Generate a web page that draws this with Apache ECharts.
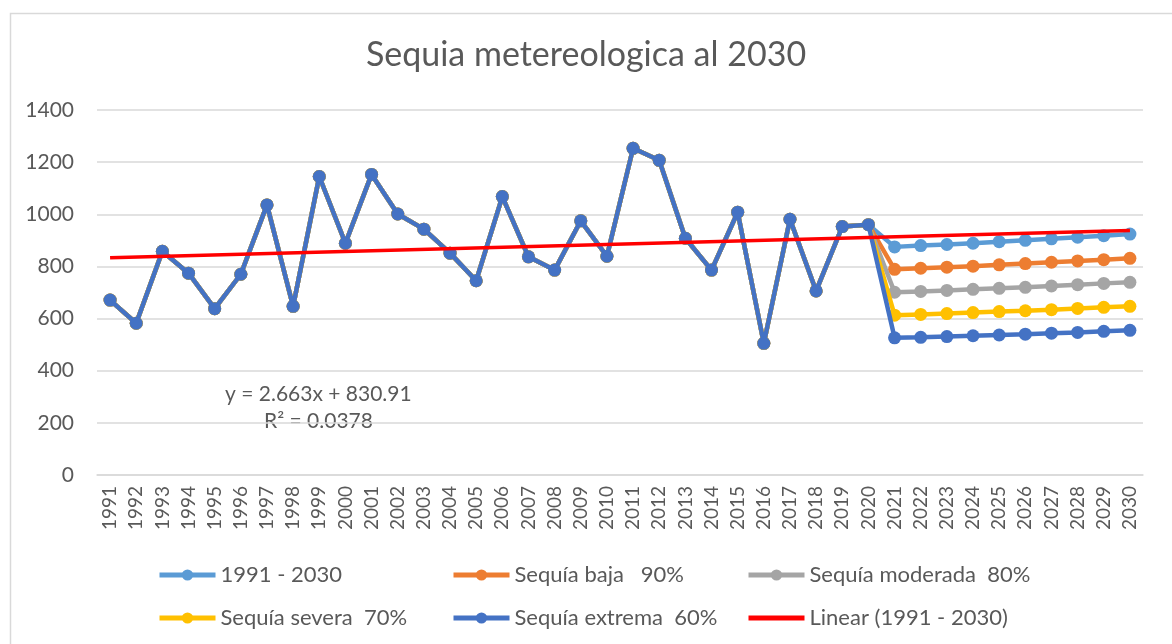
<!DOCTYPE html>
<html>
<head>
<meta charset="utf-8">
<script src="https://cdn.jsdelivr.net/npm/echarts@6/dist/echarts.min.js"></script>
<style>
html,body{margin:0;padding:0;background:#fff;}
#chart{width:1172px;height:644px;}
</style>
</head>
<body>
<div id="chart"></div>
<script>
const years = ['1991','1992','1993','1994','1995','1996','1997','1998','1999','2000',
  '2001','2002','2003','2004','2005','2006','2007','2008','2009','2010',
  '2011','2012','2013','2014','2015','2016','2017','2018','2019','2020',
  '2021','2022','2023','2024','2025','2026','2027','2028','2029','2030'];

const historical = [671, 582, 858, 774, 638, 770, 1036, 647, 1145, 889,
  1153, 1001, 943, 851, 745, 1068, 837, 786, 975, 839,
  1253, 1207, 908, 786, 1008, 505, 981, 706, 953, 960];

const proj100 = [875, 880, 884, 889, 895, 900, 906, 912, 918, 924];
const proj90  = [789, 793, 797, 801, 806, 811, 816, 821, 826, 831];
const proj80  = [701, 704, 708, 712, 716, 720, 725, 730, 735, 739];
const proj70  = [613, 616, 619, 623, 627, 630, 634, 639, 643, 647];
const proj60  = [526, 528, 531, 534, 537, 540, 544, 547, 551, 555];

const trendEnds = [833.6, 937.4];

const seriesNames = ['1991 - 2030', 'Sequía baja   90%', 'Sequía moderada  80%',
  'Sequía severa  70%', 'Sequía extrema  60%', 'Linear (1991 - 2030)'];
const seriesColors = ['#5B9BD5', '#ED7D31', '#A5A5A5', '#FFC000', '#4472C4', '#FF0000'];
const projections = [proj100, proj90, proj80, proj70, proj60];

const yTicks = {min: 0, max: 1400, interval: 200};

const chart = echarts.init(document.getElementById('chart'));
const FONT = 'Lato';
const TXT = '#595959';

const lineSeries = projections.map((p, i) => ({
  name: seriesNames[i],
  type: 'line',
  data: historical.concat(p),
  symbol: 'circle',
  symbolSize: 13,
  showSymbol: true,
  lineStyle: {width: 4.5, color: seriesColors[i]},
  itemStyle: {color: seriesColors[i]},
  z: 2 + i,
  animation: false
}));

const trendData = years.map((y, i) => i === 0 ? trendEnds[0] : (i === years.length - 1 ? trendEnds[1] : null));
lineSeries.push({
  name: seriesNames[5],
  type: 'line',
  data: trendData,
  connectNulls: true,
  symbol: 'none',
  lineStyle: {width: 3.5, color: seriesColors[5]},
  itemStyle: {color: seriesColors[5]},
  z: 10,
  animation: false
});

function legendCol(left, names) {
  return {
    orient: 'vertical',
    left: left,
    top: 559,
    itemWidth: 56,
    itemHeight: 14,
    itemGap: 21,
    data: names,
    lineStyle: {width: 5},
    textStyle: {fontFamily: FONT, fontSize: 22, color: TXT},
    selectedMode: false
  };
}

chart.setOption({
  animation: false,
  backgroundColor: '#fff',
  title: {
    text: 'Sequia metereologica al 2030',
    left: 'center',
    top: 33,
    textStyle: {fontFamily: FONT, fontSize: 34, fontWeight: 'normal', color: TXT}
  },
  legend: [
    legendCol(152, [seriesNames[0], seriesNames[3]]),
    legendCol(446, [seriesNames[1], seriesNames[4]]),
    legendCol(741, [seriesNames[2], {name: seriesNames[5], icon: 'path://M0,0 L56,0 L56,5 L0,5 Z'}])
  ],
  grid: {left: 97, right: 29, top: 110, bottom: 169, containLabel: false},
  xAxis: {
    type: 'category',
    data: years,
    boundaryGap: true,
    axisLine: {lineStyle: {color: '#D9D9D9', width: 1.5}},
    axisTick: {show: false},
    axisLabel: {rotate: 90, margin: 11, fontFamily: FONT, fontSize: 19, color: TXT, interval: 0}
  },
  yAxis: {
    type: 'value',
    min: yTicks.min, max: yTicks.max, interval: yTicks.interval,
    axisLine: {show: false},
    axisTick: {show: false},
    splitLine: {lineStyle: {color: '#D9D9D9', width: 1.5}},
    axisLabel: {margin: 23, fontFamily: FONT, fontSize: 21, color: TXT, formatter: v => String(v)}
  },
  graphic: [
    {type: 'rect', left: 8, top: 11, shape: {width: 1200, height: 700},
      style: {fill: 'none', stroke: '#D9D9D9', lineWidth: 1.5}, silent: true, z: -1},
    {type: 'text', left: 225, top: 384, style: {text: 'y = 2.663x + 830.91', font: '21px Lato', fill: TXT}},
    {type: 'text', left: 264, top: 411, style: {text: 'R² = 0.0378', font: '21px Lato', fill: TXT}}
  ],
  series: lineSeries
});
</script>
</body>
</html>
